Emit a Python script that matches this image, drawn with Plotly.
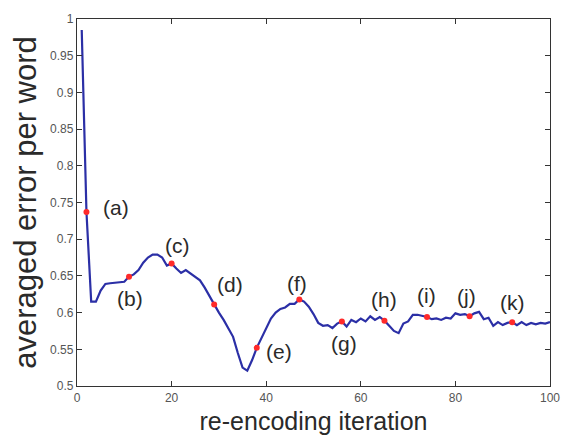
import plotly.graph_objects as go

# Averaged error per word over 100 re-encoding iterations
iterations = list(range(1, 101))
avg_error = [
    0.985, 0.737, 0.615, 0.615, 0.630, 0.639, 0.640, 0.641, 0.642, 0.642,
    0.649, 0.652, 0.658, 0.668, 0.675, 0.679, 0.679, 0.675, 0.664, 0.667,
    0.660, 0.654, 0.658, 0.653, 0.648, 0.644, 0.634, 0.622, 0.611, 0.600,
    0.590, 0.578, 0.567, 0.545, 0.525, 0.521, 0.535, 0.552, 0.566, 0.578,
    0.592, 0.600, 0.605, 0.607, 0.612, 0.612, 0.618, 0.615, 0.608, 0.598,
    0.586, 0.582, 0.583, 0.579, 0.585, 0.588, 0.581, 0.590, 0.587, 0.592,
    0.588, 0.595, 0.590, 0.594, 0.589, 0.582, 0.575, 0.572, 0.585, 0.588,
    0.597, 0.597, 0.596, 0.594, 0.591, 0.592, 0.590, 0.593, 0.592, 0.599,
    0.597, 0.598, 0.595, 0.599, 0.601, 0.591, 0.593, 0.582, 0.587, 0.583,
    0.586, 0.587, 0.583, 0.587, 0.583, 0.586, 0.584, 0.586, 0.585, 0.587,
]

# Highlighted iterations and their letters
marked_iters = [2, 11, 20, 29, 38, 47, 56, 65, 74, 83, 92]
marked_labels = ["(a)", "(b)", "(c)", "(d)", "(e)", "(f)", "(g)", "(h)", "(i)", "(j)", "(k)"]
marked_vals = [avg_error[iterations.index(i)] for i in marked_iters]

# pixel offsets of each letter relative to its point
label_shift = [(30, 5), (1, -22), (6, 18), (16, 20), (22, -4), (-2, 16),
               (2, -22), (0, 21), (-1, 22), (-3, 20), (0, 20)]

x_ticks = [0, 20, 40, 60, 80, 100]

FONT = "Liberation Sans, Arial, sans-serif"

fig = go.Figure()
fig.add_trace(go.Scatter(
    x=iterations, y=avg_error, mode="lines",
    line=dict(color="#2b2fa6", width=2.2), hoverinfo="skip",
))
fig.add_trace(go.Scatter(
    x=marked_iters, y=marked_vals, mode="markers",
    marker=dict(color="#ff2a2a", size=6), hoverinfo="skip",
))

for xi, yi, lab, (dx, dy) in zip(marked_iters, marked_vals, marked_labels, label_shift):
    fig.add_annotation(
        x=xi, y=yi, text=lab, showarrow=False, xshift=dx, yshift=dy,
        font=dict(family=FONT, size=21, color="#2a2a2a"),
    )

axis_common = dict(
    showline=True, linecolor="#333333", linewidth=1.4, mirror="ticks",
    ticks="inside", ticklen=5, tickwidth=1.2, tickcolor="#333333",
    showgrid=False, zeroline=False,
    tickfont=dict(family=FONT, size=12, color="#555555"),
)

fig.update_layout(
    width=572, height=442,
    margin=dict(l=77, r=16, t=14, b=52),
    paper_bgcolor="white", plot_bgcolor="white",
    showlegend=False,
    xaxis=dict(
        range=[0, 100], tickvals=x_ticks,
        title=dict(text="re-encoding iteration", standoff=8,
                   font=dict(family=FONT, size=25, color="#2a2a2a")),
        **axis_common,
    ),
    yaxis=dict(
        range=[0.5, 1], dtick=0.05, tick0=0.5,
        title=dict(text="averaged error per word", standoff=4,
                   font=dict(family=FONT, size=31, color="#2a2a2a")),
        **axis_common,
    ),
)

fig.write_html("out.html")
